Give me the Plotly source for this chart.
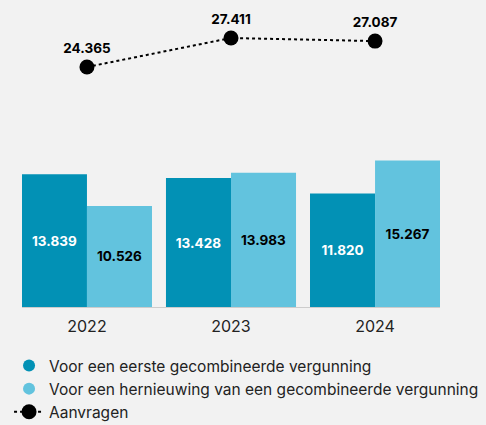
import plotly.graph_objects as go

years = ['2022', '2023', '2024']
eerste = [13839, 13428, 11820]
hernieuwing = [10526, 13983, 15267]
aanvragen = [24365, 27411, 27087]

dark_teal = '#0291b5'
light_blue = '#62c3de'
bg = '#f2f2f2'
font_family = "Inter, Roboto, sans-serif"

fig = go.Figure()

# Bars (legend handled by circle markers below)
fig.add_trace(go.Bar(
    x=years, y=eerste,
    marker=dict(color=dark_teal, line=dict(width=0)),
    texttemplate="%{y:,.0f}", textposition='inside', insidetextanchor='middle',
    textfont=dict(color='white', size=13.5, family=font_family, weight='bold'),
    showlegend=False
))
fig.add_trace(go.Bar(
    x=years, y=hernieuwing,
    marker=dict(color=light_blue, line=dict(width=0)),
    texttemplate="%{y:,.0f}", textposition='inside', insidetextanchor='middle',
    textfont=dict(color='black', size=13.5, family=font_family, weight='bold'),
    showlegend=False
))

# Legend entries with round symbols
fig.add_trace(go.Scatter(
    x=[None], y=[None], mode='markers',
    marker=dict(color=dark_teal, size=12, symbol='circle'),
    name='Voor een eerste gecombineerde vergunning'
))
fig.add_trace(go.Scatter(
    x=[None], y=[None], mode='markers',
    marker=dict(color=light_blue, size=12, symbol='circle'),
    name='Voor een hernieuwing van een gecombineerde vergunning'
))

# Total requests line on its own axis
fig.add_trace(go.Scatter(
    x=years, y=aanvragen, yaxis='y2',
    mode='lines+markers+text', cliponaxis=False,
    line=dict(color='black', width=2, dash='dot'),
    marker=dict(color='black', size=15),
    texttemplate="%{y:,.0f}", textposition='top center',
    textfont=dict(color='black', size=13.5, family=font_family, weight='bold'),
    name='Aanvragen'
))

fig.update_layout(
    width=486, height=425,
    barmode='group', bargap=0.097, bargroupgap=0,
    separators=',.',
    paper_bgcolor=bg, plot_bgcolor=bg,
    margin=dict(l=22, r=46, t=20, b=118, autoexpand=False),
    font=dict(family=font_family, size=15, color='#222222'),
    xaxis=dict(
        range=[-0.451, 2.451], showgrid=False, zeroline=False,
        showline=True, linecolor='#cccccc', linewidth=1,
        ticks='', ticklabelstandoff=5, tickfont=dict(size=16, color='#222222')
    ),
    yaxis=dict(range=[0, 29900], visible=False, showgrid=False),
    yaxis2=dict(range=[-842, 29301], overlaying='y', visible=False, showgrid=False),
    legend=dict(
        x=-0.031, y=-0.146, xanchor='left', yanchor='top',
        orientation='v', traceorder='normal',
        font=dict(size=15.5, color='#222222'),
        bgcolor='rgba(0,0,0,0)', tracegroupgap=0
    ),
    showlegend=True
)

# drop the default body margin so the figure fills the window
fig.write_html(
    "out.html",
    config={'displayModeBar': False},
    post_script=f"document.body.style.margin='0';document.body.style.background='{bg}';"
)
